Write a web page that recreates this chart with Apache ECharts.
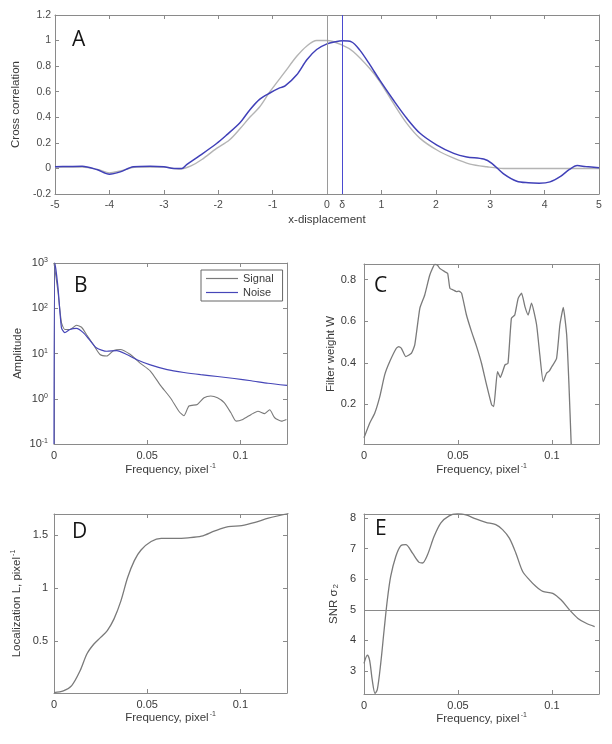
<!DOCTYPE html>
<html>
<head>
<meta charset="utf-8">
<script src="https://cdn.jsdelivr.net/npm/echarts@6/dist/echarts.min.js"></script>
<style>html,body{margin:0;padding:0;background:#fff}#c{width:612px;height:744px}</style>
</head>
<body>
<div id="c"></div>
<script>
// ---- Panel A: cross correlation ----
const aBlueX = [-5,-4.75,-4.5,-4.23,-4.0,-3.8,-3.56,-3.25,-3.0,-2.82,-2.67,-2.58,-2.34,-2.03,-1.85,-1.6,-1.42,-1.24,-1.05,-0.87,-0.77,-0.56,-0.37,-0.19,0,0.15,0.28,0.45,0.6,0.79,0.97,1.22,1.47,1.71,2.02,2.33,2.57,2.88,3.03,3.24,3.49,3.7,3.9,4.1,4.3,4.45,4.6,4.75,5];
const aBlueY = [0.013,0.015,0.017,-0.009,-0.045,-0.027,0.013,0.018,0.013,0.0,0.0,0.03,0.1,0.195,0.26,0.357,0.457,0.54,0.59,0.63,0.645,0.73,0.85,0.93,0.974,0.99,0.998,0.99,0.927,0.81,0.69,0.535,0.39,0.275,0.183,0.118,0.09,0.073,0.04,-0.04,-0.1,-0.112,-0.115,-0.105,-0.06,-0.01,0.022,0.015,0.005];
const aGrayX = [-5,-4.5,-4.2,-4.0,-3.8,-3.5,-3.0,-2.7,-2.5,-2.3,-2.03,-1.8,-1.6,-1.42,-1.24,-1.05,-0.77,-0.56,-0.37,-0.19,0,0.28,0.48,0.79,0.97,1.22,1.47,1.71,2.02,2.33,2.63,2.94,3.24,4,5];
const aGrayY = [0.01,0.01,-0.01,-0.035,-0.02,0.01,0.01,-0.005,0.02,0.07,0.157,0.22,0.31,0.4,0.48,0.6,0.757,0.875,0.958,1.0,1.0,0.965,0.915,0.78,0.68,0.51,0.35,0.235,0.144,0.08,0.034,0.013,0.0,0.0,0.0];
const aDelta = 0.28;
const aXTicks = [-5,-4,-3,-2,-1,0,1,2,3,4,5];
const aYTicks = [-0.2,0,0.2,0.4,0.6,0.8,1,1.2];

// ---- Panel B: amplitude spectra ----
const bSignalX = [0,0.0021,0.004,0.0058,0.0085,0.0121,0.0148,0.0175,0.021,0.0247,0.0283,0.032,0.0355,0.041,0.046,0.0517,0.057,0.0625,0.067,0.0697,0.0724,0.0769,0.0805,0.0841,0.0877,0.0913,0.0949,0.0977,0.1013,0.1058,0.1094,0.113,0.1157,0.1184,0.122,0.1247];
const bSignalY = [1000,240,48,34,34,42,38,26,16,9.5,8.8,11.7,12.3,9.5,6.2,4.1,2.0,1.04,0.53,0.42,0.69,0.75,1.05,1.15,1.05,0.82,0.49,0.32,0.35,0.45,0.53,0.47,0.57,0.38,0.32,0.35];
const bNoiseX = [0,0.0005,0.0021,0.004,0.0058,0.0085,0.012,0.0157,0.0193,0.0229,0.0283,0.0337,0.039,0.0445,0.0517,0.0607,0.0697,0.0787,0.0877,0.0967,0.1058,0.1148,0.125];
const bNoiseY = [0.1,1000,300,37,29,34,36,29,19.5,13.2,11.2,11.6,9.5,7.3,5.6,4.4,3.8,3.4,3.1,2.8,2.5,2.2,1.97];

// ---- Panel C: filter weight ----
const cX = [0,0.003,0.0057,0.0084,0.011,0.0137,0.0172,0.0185,0.0199,0.0222,0.0252,0.027,0.0297,0.0323,0.035,0.0377,0.039,0.0403,0.043,0.0445,0.0457,0.0475,0.0492,0.0505,0.0519,0.0545,0.0572,0.0599,0.0625,0.0652,0.0679,0.069,0.071,0.0725,0.075,0.0766,0.0784,0.0802,0.082,0.0838,0.0856,0.0873,0.0891,0.0918,0.0935,0.0953,0.0971,0.0985,0.0998,0.1024,0.1042,0.106,0.1078,0.109,0.1102];
const cY = [0.04,0.11,0.158,0.238,0.342,0.406,0.47,0.478,0.47,0.43,0.446,0.486,0.662,0.726,0.822,0.873,0.87,0.854,0.838,0.83,0.758,0.75,0.742,0.745,0.735,0.63,0.55,0.478,0.398,0.294,0.198,0.19,0.358,0.33,0.39,0.398,0.614,0.63,0.71,0.735,0.67,0.63,0.687,0.583,0.44,0.31,0.35,0.36,0.38,0.42,0.583,0.666,0.535,0.3,0.01];

// ---- Panel D: localization ----
const dX = [0,0.005,0.0095,0.014,0.0177,0.0213,0.025,0.0286,0.0322,0.0359,0.0395,0.0431,0.0467,0.0521,0.0575,0.0647,0.0719,0.0791,0.0863,0.0935,0.1007,0.1079,0.115,0.1258];
const dY = [0.014,0.03,0.08,0.22,0.38,0.47,0.535,0.6,0.71,0.88,1.10,1.26,1.36,1.44,1.47,1.47,1.475,1.49,1.54,1.58,1.59,1.62,1.66,1.705];

// ---- Panel E: SNR ----
const eX = [0,0.0018,0.003,0.0044,0.0059,0.0071,0.0089,0.0107,0.0124,0.0142,0.0169,0.0195,0.0222,0.0258,0.0293,0.0311,0.0338,0.0373,0.0409,0.0453,0.0497,0.0542,0.0595,0.0648,0.0701,0.0737,0.0773,0.0808,0.0844,0.088,0.0915,0.0951,0.1004,0.1049,0.1093,0.1138,0.1182,0.1227];
const eY = [3.25,3.52,3.35,2.7,2.27,2.4,3.25,4.34,5.32,6.09,6.74,7.09,7.13,6.85,6.55,6.53,6.8,7.4,7.84,8.07,8.14,8.1,7.97,7.86,7.78,7.62,7.34,6.85,6.25,5.98,5.76,5.6,5.54,5.32,5.0,4.72,4.56,4.45];
const eThreshold = 5;

const fTicks = [0,0.05,0.1];
const cYTicks = [0.2,0.4,0.6,0.8];
const dYTicks = [0.5,1,1.5];
const eYTicks = [3,4,5,6,7,8];

const FONT = 'Liberation Sans, Arial, sans-serif';
const FRAME = '#8a8a8a';
const TXT = '#3a3a3a';
const GRAY = '#7a7a7a';

function pairs(xs, ys){ return xs.map((x,i)=>[x, ys[i]]); }

const grids = [
  {left:55, top:15, width:544, height:179},
  {left:54, top:263, width:233, height:181},
  {left:364, top:264, width:235, height:180},
  {left:54, top:514, width:233, height:179},
  {left:364, top:514, width:235, height:180}
];

const rich = {
  s:{fontSize:7, verticalAlign:'top', color:TXT, fontFamily:FONT, padding:[0,0,6,1]},
  u:{fontSize:8, verticalAlign:'bottom', color:TXT, fontFamily:FONT, padding:[5,0,0,1]}
};

function mainX(g, min, max, ticks, name, gap, fs, margin, fmt, col){
  return {type:'value', gridIndex:g, min, max, position:'bottom',
    name, nameLocation:'middle', nameGap:gap,
    nameTextStyle:{fontSize:11.5, color:TXT, fontFamily:FONT, rich},
    axisLine:{show:true, onZero:false, lineStyle:{color:FRAME, width:1}},
    axisTick:{show:true, inside:true, length:4, customValues:ticks, lineStyle:{color:FRAME}},
    axisLabel:{customValues:ticks, fontSize:fs, color:col||TXT, fontFamily:FONT, margin, formatter:fmt || (v=>String(+v.toFixed(4)))},
    splitLine:{show:false}};
}
function topX(g, min, max, ticks){
  return {type:'value', gridIndex:g, min, max, position:'top',
    axisLine:{show:true, onZero:false, lineStyle:{color:FRAME, width:1}},
    axisTick:{show:true, inside:true, length:4, customValues:ticks, lineStyle:{color:FRAME}},
    axisLabel:{show:false}, splitLine:{show:false}};
}
function mainY(g, min, max, ticks, name, gap, fs, margin, type, fmt, col){
  const ax = {type:type||'value', gridIndex:g, min, max, position:'left',
    name, nameLocation:'middle', nameGap:gap,
    nameTextStyle:{fontSize:11.5, color:TXT, fontFamily:FONT, rich},
    axisLine:{show:true, onZero:false, lineStyle:{color:FRAME, width:1}},
    axisTick:{show:true, inside:true, length:4, lineStyle:{color:FRAME}},
    axisLabel:{fontSize:fs, color:col||TXT, fontFamily:FONT, margin, formatter:fmt || (v=>String(+(+v).toFixed(4))), rich:{s:{fontSize:7, verticalAlign:'top', color:TXT, fontFamily:FONT, padding:[0,0,5,0]}}},
    splitLine:{show:false}};
  if (ticks){ ax.axisTick.customValues = ticks; ax.axisLabel.customValues = ticks; }
  if (type === 'log'){ ax.logBase = 10; ax.minorTick = {show:false}; }
  return ax;
}
function rightY(g, min, max, ticks, type){
  const ax = {type:type||'value', gridIndex:g, min, max, position:'right',
    axisLine:{show:true, onZero:false, lineStyle:{color:FRAME, width:1}},
    axisTick:{show:true, inside:true, length:4, lineStyle:{color:FRAME}},
    axisLabel:{show:false}, splitLine:{show:false}};
  if (ticks){ ax.axisTick.customValues = ticks; }
  if (type === 'log'){ ax.logBase = 10; }
  return ax;
}

const freqName = 'Frequency, pixel{s|-1}';

const xAxis = [
  mainX(0, -5, 5, aXTicks.concat([aDelta]), 'x-displacement', 20, 10.5, 6, v => Math.abs(v - aDelta) < 1e-9 ? 'δ' : String(v), '#4a4a4a'),
  mainX(1, 0, 0.125, fTicks, freqName, 19, 11, 6),
  mainX(2, 0, 0.125, fTicks, freqName, 19, 11, 6),
  mainX(3, 0, 0.125, fTicks, freqName, 17, 11, 6),
  mainX(4, 0, 0.125, fTicks, freqName, 17, 11, 6),
  topX(0, -5, 5, aXTicks),
  topX(1, 0, 0.125, fTicks),
  topX(2, 0, 0.125, fTicks),
  topX(3, 0, 0.125, fTicks),
  topX(4, 0, 0.125, fTicks)
];
const yAxis = [
  mainY(0, -0.2, 1.2, aYTicks, 'Cross correlation', 31, 10.5, 4, null, null, '#4a4a4a'),
  mainY(1, 0.1, 1000, null, 'Amplitude', 30, 11, 6, 'log', v => '10{s|' + Math.round(Math.log10(v)) + '}'),
  mainY(2, 0.01, 0.875, cYTicks, 'Filter weight W', 27, 11, 8),
  mainY(3, 0.01, 1.7, dYTicks, 'Localization L, pixel{s|-1}', 31, 11, 6),
  mainY(4, 2.25, 8.13, eYTicks, 'SNR σ{u|2}', 24, 11, 8),
  rightY(0, -0.2, 1.2, aYTicks),
  rightY(1, 0.1, 1000, null, 'log'),
  rightY(2, 0.01, 0.875, cYTicks),
  rightY(3, 0.01, 1.7, dYTicks),
  rightY(4, 2.25, 8.13, eYTicks)
];

function line(name, g, data, color, width, smooth, extra){
  return Object.assign({type:'line', name, xAxisIndex:g, yAxisIndex:g, data, showSymbol:false, symbol:'none',
    smooth: smooth, silent:true, animation:false, clip:true,
    lineStyle:{color, width}, itemStyle:{color}}, extra||{});
}
function vline(val, color){
  return {symbol:['none','none'], silent:true, animation:false, label:{show:false},
    lineStyle:{color, width:1, type:'solid'}, data:[{xAxis:val}]};
}

const series = [
  line('A gray', 0, pairs(aGrayX, aGrayY), '#b4b4b4', 1.4, 0.3, {markLine: vline(0, '#9a9a9a')}),
  line('A blue', 0, pairs(aBlueX, aBlueY), '#4040b8', 1.5, 0.3, {markLine: vline(aDelta, '#4a4ad0')}),
  line('Signal', 1, pairs(bSignalX, bSignalY), GRAY, 1.1, 0.2),
  line('Noise', 1, pairs(bNoiseX, bNoiseY), '#4646b8', 1.2, 0.2),
  line('C', 2, pairs(cX, cY), GRAY, 1.3, 0.15),
  line('D', 3, pairs(dX, dY), GRAY, 1.3, 0.3),
  line('E', 4, pairs(eX, eY), GRAY, 1.3, 0.3, {markLine:{symbol:['none','none'], silent:true, animation:false, label:{show:false}, lineStyle:{color:'#8a8a8a', width:1, type:'solid'}, data:[{yAxis:eThreshold}]}})
];

function letter(t, x, y){
  return {type:'text', left:x, top:y, silent:true, style:{text:t, font:'21px "Open Sans", sans-serif', fill:'#151515'}};
}

const option = {
  animation:false,
  backgroundColor:'#fff',
  grid: grids.map(g => Object.assign({show:false, containLabel:false}, g)),
  xAxis, yAxis, series,
  legend:{data:[{name:'Signal', icon:'rect'},{name:'Noise', icon:'rect'}], left:201, top:270, orient:'vertical',
    itemWidth:32, itemHeight:1.2, itemGap:3, padding:[3,9,3,5], borderColor:'#666', borderWidth:1, backgroundColor:'#fff',
    textStyle:{fontSize:11, color:TXT, fontFamily:FONT}, selectedMode:false},
  graphic:[
    letter('A', 72, 30), letter('B', 74, 276), letter('C', 374, 276), letter('D', 72, 522), letter('E', 375, 519)
  ]
};

const chart = echarts.init(document.getElementById('c'), null, {renderer:'canvas'});
chart.setOption(option);
</script>
</body>
</html>
